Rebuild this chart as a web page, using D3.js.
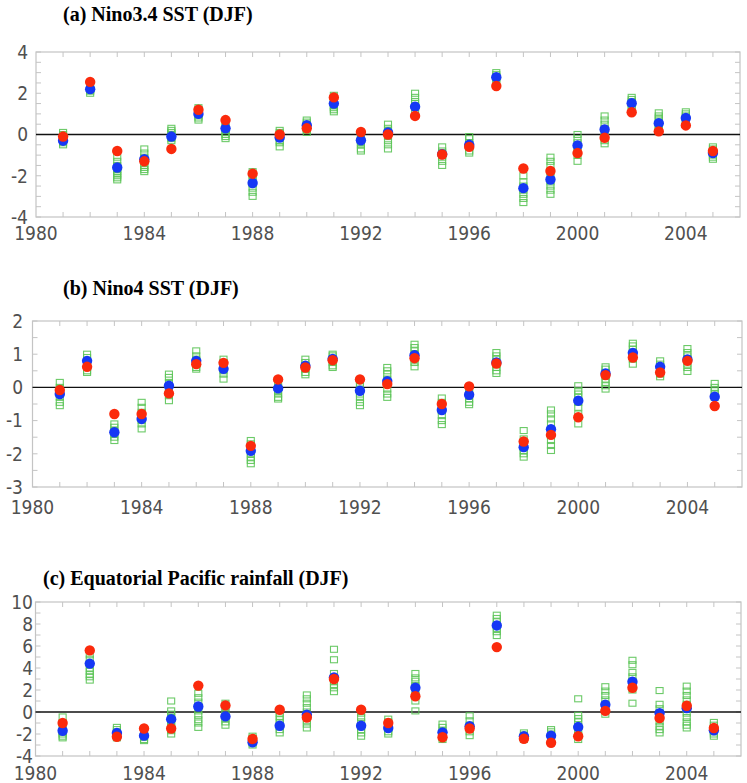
<!DOCTYPE html>
<html>
<head>
<meta charset="utf-8">
<script src="https://cdn.jsdelivr.net/npm/d3@7"></script>
<style>
  body { margin: 0; background: #fff; }
  svg { display: block; }
</style>
</head>
<body>
<div id="chart"></div>
<script>
let width = 747;
let height = 783;

let years = d3.range(1981, 2006);
let xTickLabels = [1980, 1984, 1988, 1992, 1996, 2000, 2004];

// (a) Nino3.4 SST
let ninoBlue = [-0.3, 2.2, -1.6, -1.2, -0.1, 1.0, 0.3, -2.35, -0.15, 0.45, 1.5, -0.28, 0.1, 1.35, -0.95, -0.5, 2.78, -2.6, -2.18, -0.53, 0.24, 1.52, 0.55, 0.8, -0.9];
let ninoRed = [-0.1, 2.55, -0.8, -1.3, -0.7, 1.2, 0.7, -1.9, 0.0, 0.3, 1.8, 0.12, 0.0, 0.9, -0.97, -0.6, 2.35, -1.65, -1.77, -0.9, -0.16, 1.08, 0.15, 0.44, -0.8];
let ninoGreen = [
  [0.1, 0, -0.1, -0.2, -0.3, -0.4, -0.5],
  [2.3, 2.2, 2.15, 2.1, 2.0],
  [-1.1, -1.3, -1.5, -1.7, -1.8, -1.9, -2.0, -2.1, -2.2],
  [-0.7, -0.9, -1.1, -1.3, -1.5, -1.6, -1.7, -1.8],
  [0.3, 0.2, 0.1, 0, -0.1, -0.2, -0.3],
  [1.3, 1.2, 1.1, 1.0, 0.9, 0.8, 0.7],
  [0.6, 0.4, 0.3, 0.2, 0.1, 0, -0.1, -0.2],
  [-1.8, -2.0, -2.2, -2.4, -2.6, -2.8, -3.0],
  [0.2, 0.1, 0, -0.1, -0.3, -0.4, -0.6],
  [0.7, 0.6, 0.5, 0.4, 0.3, 0.2, 0.1],
  [1.9, 1.7, 1.6, 1.4, 1.3, 1.2, 1.1],
  [0, -0.1, -0.3, -0.4, -0.5, -0.7, -0.8],
  [0.5, 0.3, 0.2, 0.1, -0.1, -0.3, -0.5, -0.7],
  [2.0, 1.8, 1.6, 1.5, 1.4, 1.3, 1.2],
  [-0.6, -0.8, -0.9, -1.0, -1.1, -1.3, -1.5],
  [-0.1, -0.2, -0.4, -0.5, -0.6, -0.8, -0.9],
  [3.0, 2.9, 2.8, 2.7, 2.6],
  [-2.0, -2.3, -2.5, -2.7, -2.9, -3.1, -3.3],
  [-1.1, -1.3, -1.5, -1.8, -2.1, -2.3, -2.5, -2.7, -2.9],
  [0.0, -0.2, -0.4, -0.6, -0.8, -1.0, -1.3],
  [0.9, 0.7, 0.5, 0.3, 0.1, -0.1, -0.3, -0.45],
  [1.8, 1.7, 1.6, 1.5, 1.4, 1.3],
  [1.05, 0.9, 0.8, 0.7, 0.5, 0.4, 0.3, 0.2],
  [1.1, 1.0, 0.9, 0.8, 0.7, 0.6, 0.5],
  [-0.6, -0.7, -0.9, -1.0, -1.1, -1.2]
];

// (b) Nino4 SST
let nino4Blue = [-0.2, 0.8, -1.35, -0.95, 0.05, 0.8, 0.56, -1.91, -0.03, 0.65, 0.86, -0.1, 0.19, 0.97, -0.68, -0.22, 0.75, -1.8, -1.26, -0.4, 0.42, 1.04, 0.62, 0.84, -0.28];
let nino4Red = [-0.08, 0.62, -0.8, -0.8, -0.18, 0.7, 0.74, -1.76, 0.24, 0.6, 0.82, 0.24, 0.1, 0.88, -0.5, 0.03, 0.72, -1.63, -1.43, -0.9, 0.37, 0.9, 0.45, 0.8, -0.56];
let nino4Green = [
  [0.15, 0.0, -0.1, -0.2, -0.3, -0.45, -0.55],
  [1.0, 0.9, 0.8, 0.7, 0.6, 0.5, 0.45],
  [-1.1, -1.2, -1.3, -1.4, -1.5, -1.6],
  [-0.45, -0.6, -0.75, -0.9, -1.0, -1.1, -1.25],
  [0.4, 0.3, 0.15, 0.0, -0.1, -0.25, -0.4],
  [1.1, 0.95, 0.85, 0.8, 0.7, 0.6, 0.55],
  [0.85, 0.75, 0.65, 0.5, 0.4, 0.25],
  [-1.6, -1.7, -1.85, -2.0, -2.1, -2.2, -2.3],
  [0.1, 0.0, -0.1, -0.2, -0.3, -0.35],
  [0.85, 0.75, 0.65, 0.55, 0.45, 0.38],
  [1.0, 0.95, 0.85, 0.75, 0.65, 0.6],
  [0.2, 0.05, -0.05, -0.2, -0.3, -0.45, -0.55],
  [0.6, 0.5, 0.4, 0.25, 0.1, -0.05, -0.2, -0.3],
  [1.3, 1.2, 1.1, 1.0, 0.85, 0.75, 0.62],
  [-0.32, -0.45, -0.6, -0.7, -0.85, -1.0, -1.12],
  [-0.05, -0.15, -0.25, -0.35, -0.45, -0.52],
  [1.05, 0.95, 0.85, 0.7, 0.6, 0.5, 0.42],
  [-1.3, -1.55, -1.7, -1.8, -1.9, -2.0, -2.1],
  [-0.68, -0.8, -0.95, -1.1, -1.3, -1.45, -1.6, -1.75, -1.9],
  [0.05, -0.1, -0.2, -0.3, -0.45, -0.6, -0.8, -1.1],
  [0.62, 0.55, 0.45, 0.35, 0.25, 0.15, 0.05, -0.05],
  [1.33, 1.25, 1.15, 1.05, 0.95, 0.85, 0.7],
  [0.8, 0.7, 0.6, 0.5, 0.4, 0.32],
  [1.17, 1.05, 0.95, 0.85, 0.7, 0.6, 0.48],
  [0.12, 0.0, -0.1, -0.2, -0.3]
];

// (c) Equatorial Pacific rainfall
let rainBlue = [-1.7, 4.4, -1.9, -2.15, -0.65, 0.5, -0.4, -2.75, -1.25, -0.25, 3.15, -1.25, -1.45, 2.2, -1.85, -1.3, 7.87, -2.2, -2.15, -1.37, 0.67, 2.75, -0.1, 0.35, -1.67];
let rainRed = [-1.0, 5.6, -2.25, -1.5, -1.5, 2.4, 0.6, -2.45, 0.2, -0.5, 3.0, 0.2, -1.0, 1.43, -2.3, -1.5, 5.9, -2.43, -2.8, -2.2, 0.1, 2.2, -0.55, 0.57, -1.45];
let rainGreen = [
  [-0.45, -1.0, -1.5, -1.8, -2.0, -2.2, -2.35],
  [5.2, 4.8, 4.4, 4.0, 3.7, 3.4, 3.2, 2.9],
  [-1.4, -1.6, -1.8, -2.0, -2.2, -2.35],
  [-1.7, -1.9, -2.1, -2.3, -2.5, -2.6],
  [1.0, 0.1, -0.2, -0.5, -0.8, -1.1, -1.4, -1.7, -2.0],
  [1.7, 1.3, 0.9, 0.5, 0.1, -0.3, -0.7, -1.0, -1.4],
  [0.8, 0.4, 0.0, -0.3, -0.6, -0.9, -1.2],
  [-2.2, -2.4, -2.6, -2.8, -3.0],
  [-0.1, -0.4, -0.7, -1.0, -1.3, -1.6, -1.9],
  [1.55, 1.2, 0.8, 0.4, 0.0, -0.4, -0.8, -1.1, -1.45],
  [5.7, 4.75, 3.5, 3.1, 2.8, 2.5, 2.2, 1.85],
  [-0.1, -0.5, -0.9, -1.3, -1.6, -1.9, -2.2],
  [-0.65, -0.9, -1.2, -1.5, -1.8, -2.0],
  [3.5, 3.1, 2.8, 2.4, 1.9, 1.5, 1.0, 0.1],
  [-1.1, -1.4, -1.7, -2.0, -2.3, -2.5],
  [-0.35, -0.8, -1.2, -1.5, -1.8, -2.15],
  [8.8, 8.5, 8.2, 7.9, 7.6, 7.3, 6.95],
  [-1.9, -2.1, -2.3, -2.5],
  [-1.6, -1.8, -2.0, -2.2, -2.4],
  [1.2, -0.3, -0.6, -0.9, -1.3, -1.7, -2.1, -2.5],
  [2.3, 1.9, 1.5, 1.1, 0.7, 0.3, -0.2],
  [4.7, 4.3, 3.6, 3.2, 2.8, 2.4, 2.0, 0.8],
  [1.95, 0.7, 0.3, -0.1, -0.5, -0.9, -1.3, -1.6, -1.9],
  [2.35, 1.9, 1.5, 1.1, 0.7, 0.3, -0.1, -0.5, -0.9, -1.2, -1.45],
  [-0.95, -1.2, -1.5, -1.8, -2.0, -2.2]
];

let panels = [
  { title: "(a) Nino3.4 SST (DJF)", titleX: 63, titleY: 21, x0: 36, x1: 740, top: 52, bottom: 217,
    yDomain: [-4, 4], yTicks: d3.range(-4, 4.01, 2), yMinor: d3.range(-4, 4.01, 0.5), labelEnd: 28, xLabelDy: 23,
    blue: ninoBlue, red: ninoRed, green: ninoGreen },
  { title: "(b) Nino4 SST (DJF)", titleX: 63, titleY: 295, x0: 32.5, x1: 742, top: 321, bottom: 487,
    yDomain: [-3, 2], yTicks: d3.range(-3, 2.01, 1), yMinor: d3.range(-3, 2.01, 0.5), labelEnd: 23, xLabelDy: 27,
    blue: nino4Blue, red: nino4Red, green: nino4Green },
  { title: "(c) Equatorial Pacific rainfall (DJF)", titleX: 43, titleY: 585, x0: 35.5, x1: 741, top: 602, bottom: 756,
    yDomain: [-4, 10], yTicks: d3.range(-4, 10.01, 2), yMinor: d3.range(-4, 10.01, 1), labelEnd: 33, xLabelDy: 24,
    blue: rainBlue, red: rainRed, green: rainGreen }
];

let svg = d3.select("#chart").append("svg")
    .attr("width", width).attr("height", height);

let tickFont = "'Liberation Sans Narrow', 'Arial Narrow', 'DejaVu Sans Condensed', sans-serif";
let frameColor = "#c4c4c4";

panels.forEach(p => {
    let x = d3.scaleLinear().domain([1980, 2006]).range([p.x0, p.x1]);
    let y = d3.scaleLinear().domain(p.yDomain).range([p.bottom, p.top]);
    let g = svg.append("g");

    // title
    g.append("text")
        .attr("x", p.titleX).attr("y", p.titleY)
        .attr("font-family", "'Liberation Serif', 'Times New Roman', serif")
        .attr("font-weight", "bold").attr("font-size", 20)
        .text(p.title);

    // frame
    g.append("rect")
        .attr("x", p.x0).attr("y", p.top)
        .attr("width", p.x1 - p.x0).attr("height", p.bottom - p.top)
        .attr("fill", "none").attr("stroke", frameColor).attr("stroke-width", 1.2);

    // inward ticks (years on top/bottom, minor values on left/right)
    let yearTicks = d3.range(1981, 2006);
    g.selectAll(".tick-b").data(yearTicks).join("line")
        .attr("x1", d => x(d)).attr("x2", d => x(d))
        .attr("y1", p.bottom).attr("y2", p.bottom - 5)
        .attr("stroke", frameColor);
    g.selectAll(".tick-t").data(yearTicks).join("line")
        .attr("x1", d => x(d)).attr("x2", d => x(d))
        .attr("y1", p.top).attr("y2", p.top + 5)
        .attr("stroke", frameColor);
    g.selectAll(".tick-l").data(p.yMinor).join("line")
        .attr("x1", p.x0).attr("x2", p.x0 + 5)
        .attr("y1", d => y(d)).attr("y2", d => y(d))
        .attr("stroke", frameColor);
    g.selectAll(".tick-r").data(p.yMinor).join("line")
        .attr("x1", p.x1).attr("x2", p.x1 - 5)
        .attr("y1", d => y(d)).attr("y2", d => y(d))
        .attr("stroke", frameColor);

    // tick labels
    g.selectAll(".xlab").data(xTickLabels).join("text")
        .attr("x", d => x(d)).attr("y", p.bottom + p.xLabelDy)
        .attr("text-anchor", "middle")
        .attr("font-family", tickFont).attr("font-size", 19).attr("fill", "#505050")
        .text(d => d);
    g.selectAll(".ylab").data(p.yTicks).join("text")
        .attr("x", p.labelEnd).attr("y", d => y(d))
        .attr("dy", "0.36em")
        .attr("text-anchor", "end")
        .attr("font-family", tickFont).attr("font-size", 19).attr("fill", "#505050")
        .text(d => d);

    // zero line
    g.append("line")
        .attr("x1", p.x0).attr("x2", p.x1)
        .attr("y1", y(0)).attr("y2", y(0))
        .attr("stroke", "#111").attr("stroke-width", 1.3);

    // ensemble members: green open squares
    let greenPts = [];
    p.green.forEach((vals, i) => vals.forEach(v => greenPts.push([years[i], v])));
    g.selectAll(".sq").data(greenPts).join("rect")
        .attr("x", d => x(d[0]) - 3.5).attr("y", d => y(d[1]) - 3)
        .attr("width", 7).attr("height", 6)
        .attr("fill", "none").attr("stroke", "#5cc458").attr("stroke-width", 1.1)
        .attr("stroke-opacity", 0.9);

    // blue and red dots
    g.selectAll(".blue").data(p.blue).join("circle")
        .attr("cx", (d, i) => x(years[i])).attr("cy", d => y(d))
        .attr("r", 5.2).attr("fill", "#1638f5");
    g.selectAll(".red").data(p.red).join("circle")
        .attr("cx", (d, i) => x(years[i])).attr("cy", d => y(d))
        .attr("r", 5.2).attr("fill", "#fb2a0c");
});
</script>
</body>
</html>
